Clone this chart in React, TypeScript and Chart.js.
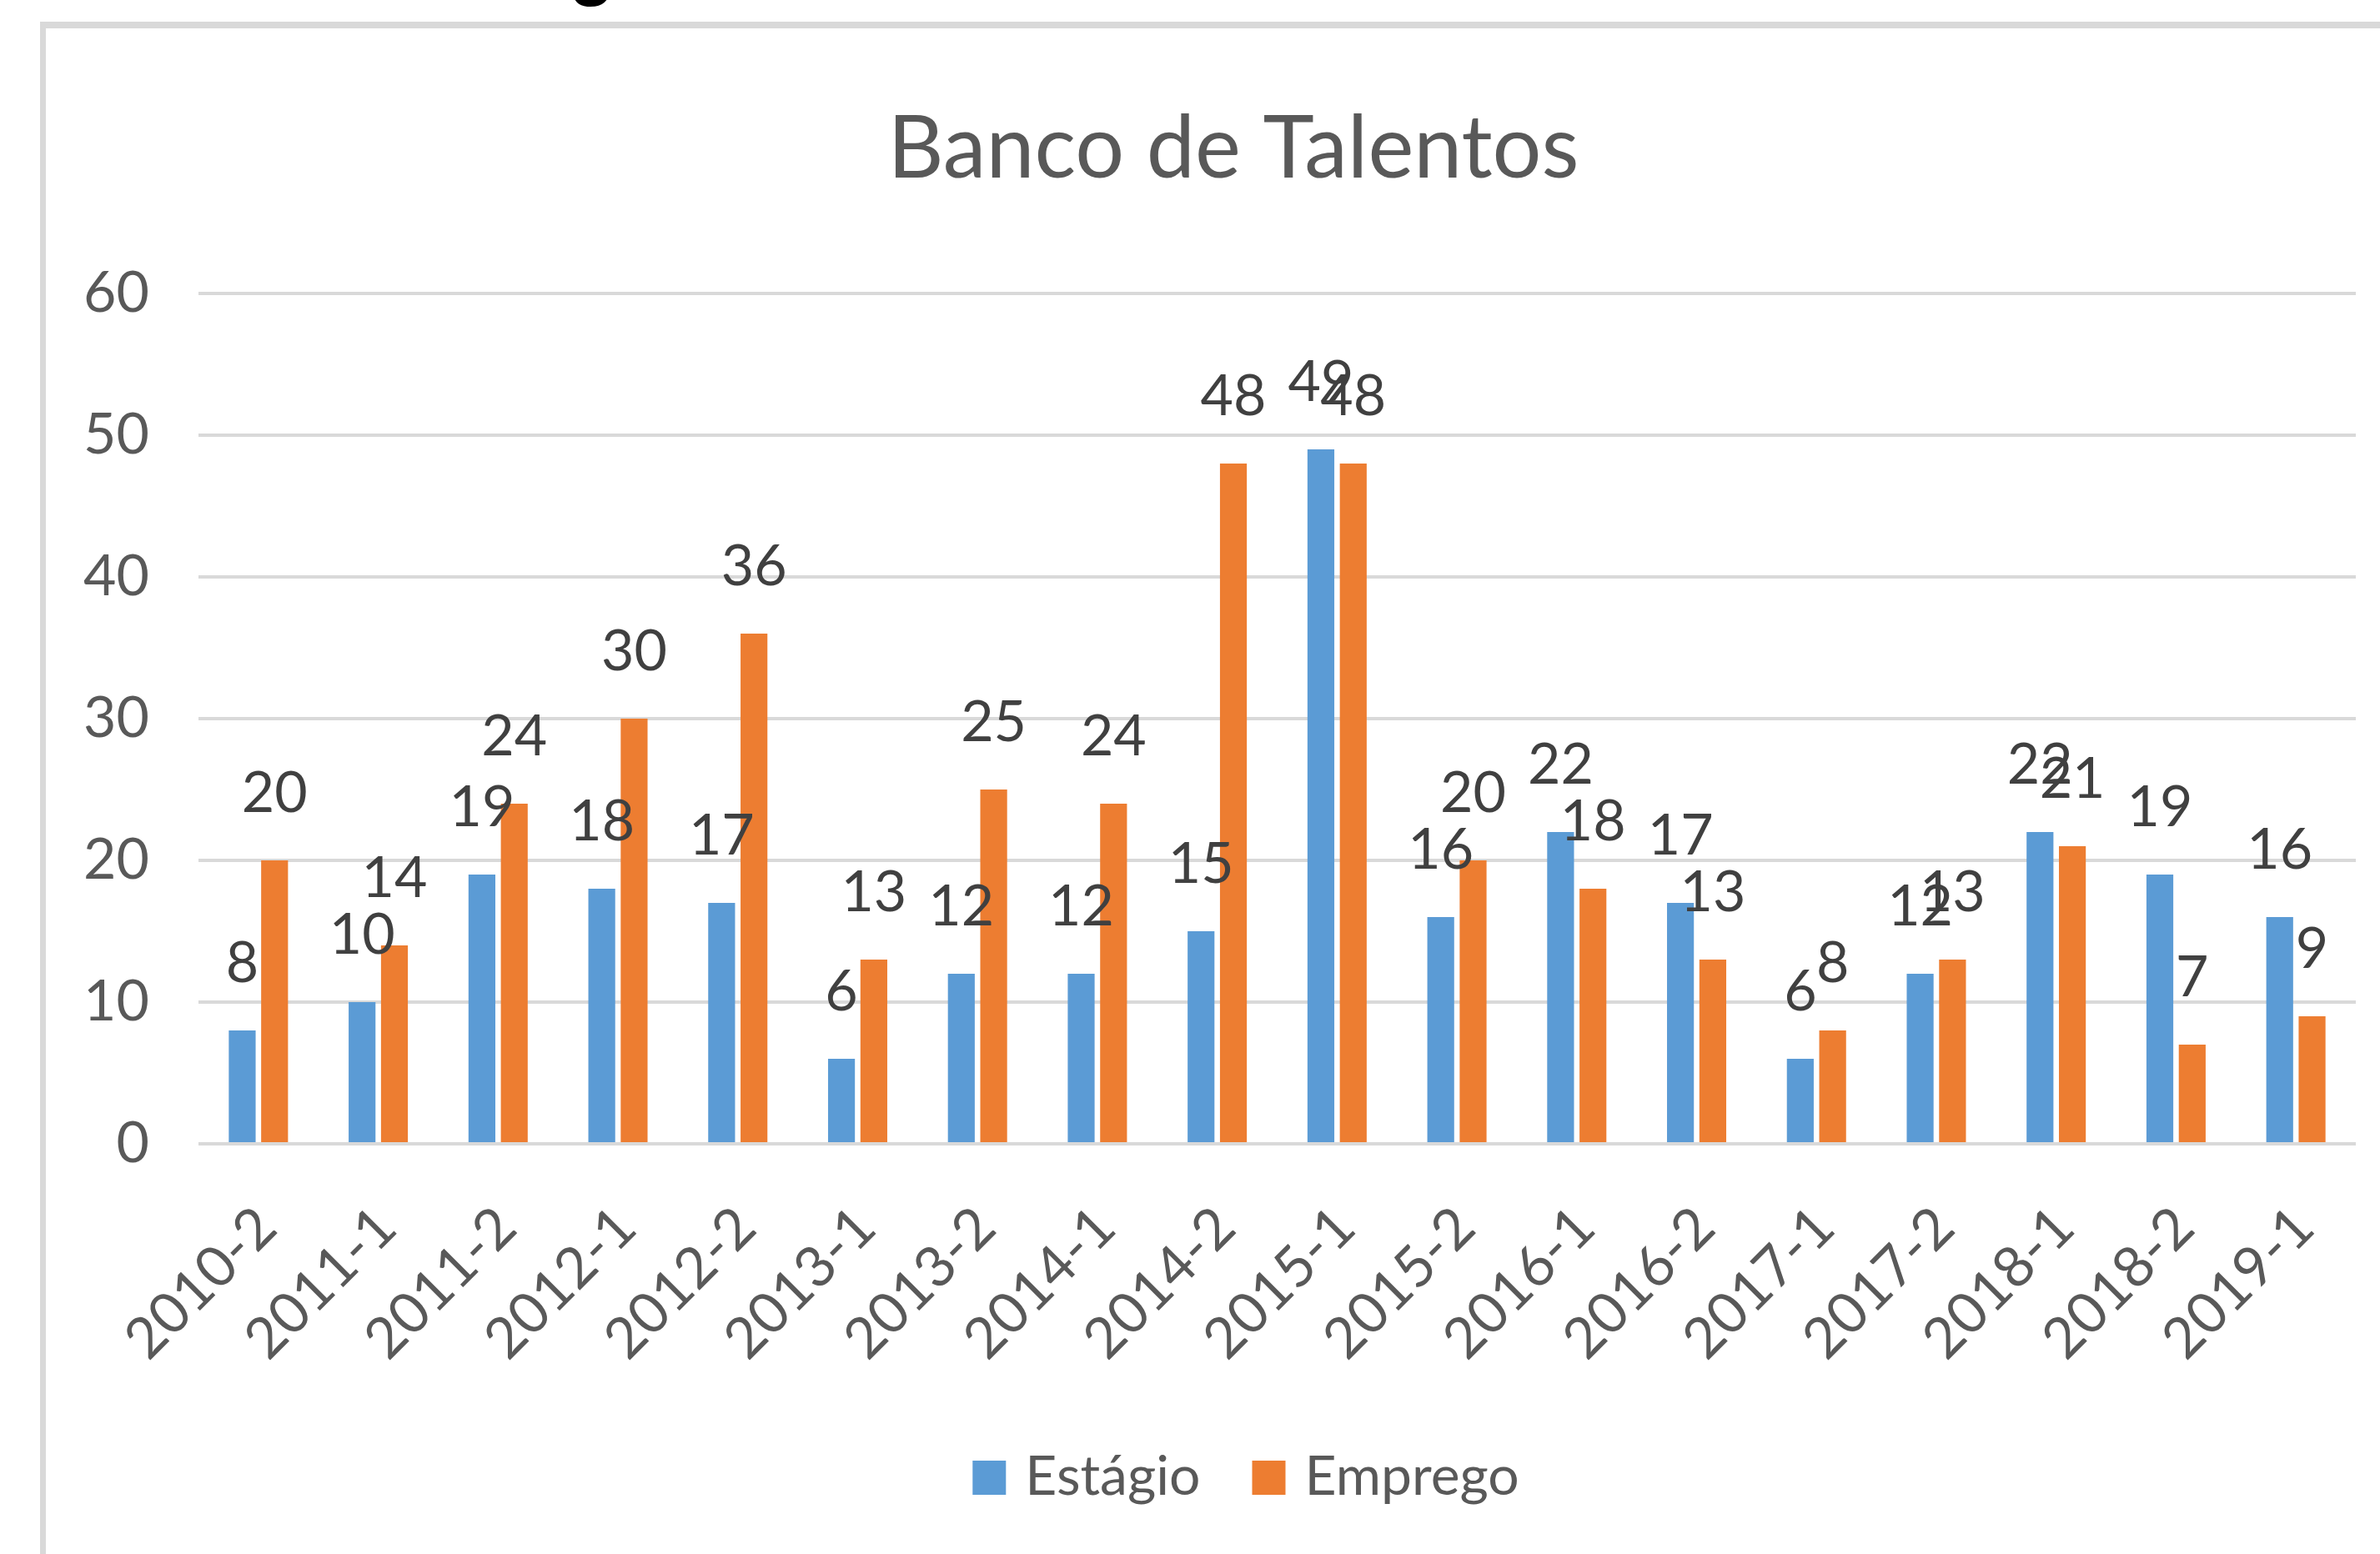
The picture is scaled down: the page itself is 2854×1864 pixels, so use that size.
import React, { useEffect, useRef } from "react";
import { Chart, registerables } from "chart.js";

Chart.register(...registerables);

// ---- data ----
const categories = [
  "2010-2", "2011-1", "2011-2", "2012-1", "2012-2", "2013-1", "2013-2", "2014-1", "2014-2",
  "2015-1", "2015-2", "2016-1", "2016-2", "2017-1", "2017-2", "2018-1", "2018-2", "2019-1",
];
const estagio = [8, 10, 19, 18, 17, 6, 12, 12, 15, 49, 16, 22, 17, 6, 12, 22, 19, 16];
const emprego = [20, 14, 24, 30, 36, 13, 25, 24, 48, 48, 20, 18, 13, 8, 13, 21, 7, 9];
const seriesNames = ["Estágio", "Emprego"];
const seriesColors = ["#5B9BD5", "#ED7D31"];
const yMin = 0;
const yMax = 60;
const yStep = 10;
const chartTitle = "Banco de Talentos";

// ---- layout ----
const W = 2854;
const H = 1864;
const FONT = "Lato";
const PLOT_LEFT = 238;
const PLOT_RIGHT = 2825;
const PLOT_TOP = 352;
const PLOT_BOTTOM = 1372;
const XSCALE_H = 300;

const framePlugin = {
  id: "frame",
  beforeDraw(chart: any) {
    const ctx = chart.ctx;
    ctx.save();
    ctx.fillStyle = "#ffffff";
    ctx.fillRect(0, 0, W, H);
    ctx.fillStyle = "#d9d9d9";
    ctx.fillRect(48, 26, W - 48, 8);
    ctx.fillRect(48, 26, 7, H - 26);
    ctx.restore();
  },
};

const titlePlugin = {
  id: "customTitle",
  afterDraw(chart: any) {
    const ctx = chart.ctx;
    ctx.save();
    ctx.font = `104px ${FONT}`;
    ctx.fillStyle = "#595959";
    ctx.textAlign = "center";
    ctx.textBaseline = "alphabetic";
    ctx.fillText(chartTitle, 1479, 213);
    ctx.restore();
  },
};

const legendPlugin = {
  id: "customLegend",
  afterDraw(chart: any) {
    const ctx = chart.ctx;
    ctx.save();
    ctx.font = `66px ${FONT}`;
    ctx.textBaseline = "alphabetic";
    ctx.textAlign = "left";
    const boxW = 40;
    const boxH = 41;
    const gapBoxText = 23;
    const gapItems = 62;
    const widths = seriesNames.map((n) => ctx.measureText(n).width);
    let total = 0;
    widths.forEach((w, i) => {
      total += boxW + gapBoxText + w + (i < widths.length - 1 ? gapItems : 0);
    });
    let x = 1494 - total / 2;
    const boxTop = 1752;
    const baseline = 1793;
    seriesNames.forEach((n, i) => {
      ctx.fillStyle = seriesColors[i];
      ctx.fillRect(x, boxTop, boxW, boxH);
      x += boxW + gapBoxText;
      ctx.fillStyle = "#595959";
      ctx.fillText(n, x, baseline);
      x += widths[i] + gapItems;
    });
    ctx.restore();
  },
};

const dataLabelPlugin = {
  id: "dataLabels",
  afterDatasetsDraw(chart: any) {
    const ctx = chart.ctx;
    ctx.save();
    ctx.font = `68px ${FONT}`;
    ctx.fillStyle = "#404040";
    ctx.textAlign = "center";
    ctx.textBaseline = "alphabetic";
    chart.data.datasets.forEach((ds: any, di: number) => {
      const meta = chart.getDatasetMeta(di);
      meta.data.forEach((el: any, i: number) => {
        ctx.fillText(String(ds.data[i]), el.x, el.y - 58);
      });
    });
    ctx.restore();
  },
};

export default function App() {
  const canvasRef = useRef<HTMLCanvasElement | null>(null);

  useEffect(() => {
    const canvas = canvasRef.current;
    if (!canvas) return;
    const chart = new Chart(canvas, {
      type: "bar",
      data: {
        labels: categories,
        datasets: [
          {
            label: seriesNames[0],
            data: estagio,
            backgroundColor: seriesColors[0],
            categoryPercentage: 0.54,
            barPercentage: 0.83,
          },
          {
            label: seriesNames[1],
            data: emprego,
            backgroundColor: seriesColors[1],
            categoryPercentage: 0.54,
            barPercentage: 0.83,
          },
        ],
      },
      options: {
        responsive: false,
        animation: false,
        devicePixelRatio: 1,
        layout: {
          padding: {
            left: 0,
            right: W - PLOT_RIGHT,
            top: PLOT_TOP,
            bottom: H - PLOT_BOTTOM - XSCALE_H,
          },
        },
        plugins: {
          legend: { display: false },
          title: { display: false },
          tooltip: { enabled: false },
        },
        scales: {
          x: {
            grid: { display: false, drawTicks: false },
            border: { display: false },
            ticks: {
              color: "#595959",
              font: { family: FONT, size: 68 },
              minRotation: 45,
              maxRotation: 45,
              autoSkip: false,
              padding: 60,
              labelOffset: 10,
            },
            afterFit(scale: any) {
              scale.height = XSCALE_H;
              scale.paddingLeft = 0;
              scale.paddingRight = 0;
            },
          },
          y: {
            min: yMin,
            max: yMax,
            grid: { color: "#d9d9d9", lineWidth: 4, drawTicks: false },
            border: { display: false },
            ticks: {
              stepSize: yStep,
              color: "#595959",
              font: { family: FONT, size: 68 },
              padding: 59,
            },
            afterFit(scale: any) {
              scale.width = PLOT_LEFT;
            },
          },
        },
      },
      plugins: [framePlugin, dataLabelPlugin, titlePlugin, legendPlugin],
    });
    return () => chart.destroy();
  }, []);

  return (
    <div
      style={{
        position: "absolute",
        left: 0,
        top: 0,
        width: W,
        height: H,
        overflow: "hidden",
        background: "#fff",
      }}
    >
      <canvas ref={canvasRef} width={W} height={H} style={{ display: "block" }} />
      <span
        style={{
          position: "absolute",
          left: 682,
          top: -87,
          fontFamily: "Liberation Sans",
          fontWeight: "bold",
          fontSize: 90,
          lineHeight: "1",
          color: "#000",
        }}
      >
        g
      </span>
    </div>
  );
}
